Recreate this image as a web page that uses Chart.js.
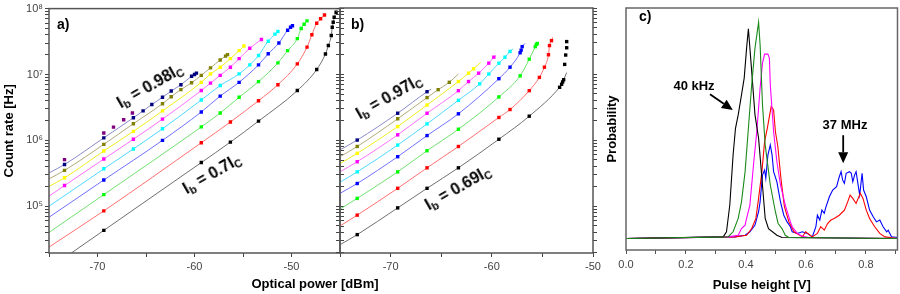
<!DOCTYPE html>
<html lang="en">
<head>
<meta charset="UTF-8" />
<title>Count rate and pulse height</title>
<script src="https://cdn.jsdelivr.net/npm/chart.js@4.4.1/dist/chart.umd.min.js"></script>
<style>
  body { margin: 0; background: #fff; }
  #wrap { position: relative; width: 900px; height: 294px; overflow: hidden; font-family: "Liberation Sans", Arial, sans-serif; }
  #wrap canvas { position: absolute; top: 0; }
  .lbl { position: absolute; font-weight: bold; color: #000; white-space: nowrap; line-height: 1; }
  .c { transform: translate(-50%, -50%); font-size: 13px; }
  .ib { font-size: 16px; transform: translate(-50%, -50%) rotate(-30deg); }
  .ib sub { font-size: 11px; vertical-align: -3px; line-height: 0; }
</style>
</head>
<body>
<div id="wrap">
  <canvas id="chartA" width="360" height="294" style="left:0px"></canvas>
  <canvas id="chartB" width="288" height="294" style="left:320px"></canvas>
  <canvas id="chartC" width="300" height="294" style="left:600px"></canvas>

  <div class="lbl" style="left:57px;top:17px;font-size:14px">a)</div>
  <div class="lbl" style="left:351px;top:17px;font-size:14px">b)</div>
  <div class="lbl" style="left:639px;top:9px;font-size:14px">c)</div>

  <div class="lbl ib" style="left:150px;top:86px">I<sub>b</sub> = 0.98I<sub>C</sub></div>
  <div class="lbl ib" style="left:212px;top:174px">I<sub>b</sub> = 0.7I<sub>C</sub></div>
  <div class="lbl ib" style="left:389px;top:97px">I<sub>b</sub> = 0.97I<sub>C</sub></div>
  <div class="lbl ib" style="left:458px;top:188px">I<sub>b</sub> = 0.69I<sub>C</sub></div>

  <div class="lbl c" style="left:694px;top:85px">40 kHz</div>
  <div class="lbl c" style="left:845px;top:124px">37 MHz</div>
  <div class="lbl c" style="left:315px;top:283px">Optical power [dBm]</div>
</div>

<script>
// ---- panel a: count rate vs optical power, [dBm, Hz] ----
const aNavyPts = [[-73.4, 4.3e5], [-69.35, 1.09e6], [-66.3, 2.2e6], [-65.3, 2.8e6], [-64.4, 3.5e6], [-63.3, 4.5e6], [-62.4, 5.6e6], [-61.4, 7.0e6], [-60.3, 9.4e6], [-60.0, 1.0e7], [-59.8, 1.05e7]];
const aPurplePts = [[-73.4, 5.1e5], [-69.35, 1.29e6], [-68.35, 1.59e6], [-67.3, 2.05e6], [-66.4, 2.6e6]];
const aOlivePts = [[-73.4, 3.5e5], [-69.35, 8.7e5], [-66.3, 1.79e6], [-63.3, 3.6e6], [-62.4, 4.6e6], [-61.4, 5.9e6], [-60.3, 7.5e6], [-59.3, 9.7e6], [-58.35, 1.26e7], [-57.35, 1.66e7], [-56.8, 1.9e7], [-56.6, 2.0e7]];
const aYellowPts = [[-73.4, 2.7e5], [-69.35, 6.9e5], [-66.3, 1.37e6], [-63.3, 2.8e6], [-59.3, 7.6e6], [-58.35, 1.02e7], [-57.35, 1.29e7], [-56.3, 1.74e7], [-55.4, 2.3e7], [-54.9, 2.7e7]];
const aMagentaPts = [[-73.4, 2.06e5], [-69.35, 5.2e5], [-66.3, 1.04e6], [-63.3, 2.1e6], [-59.3, 5.7e6], [-58.35, 7.4e6], [-57.35, 9.7e6], [-56.3, 1.29e7], [-55.4, 1.74e7], [-54.3, 2.5e7], [-53.1, 3.4e7]];
const aCyanPts = [[-69.35, 3.7e5], [-66.3, 7.4e5], [-63.3, 1.5e6], [-59.3, 4.1e6], [-57.35, 6.8e6], [-55.4, 1.02e7], [-54.3, 1.4e7], [-53.4, 1.94e7], [-52.4, 3.2e7], [-51.7, 4.1e7], [-51.4, 4.5e7]];
const aBluePts = [[-69.35, 2.5e5], [-63.3, 1.0e6], [-59.3, 2.7e6], [-57.35, 4.7e6], [-55.4, 7.6e6], [-53.4, 1.4e7], [-52.4, 2.06e7], [-51.3, 3.0e7], [-50.4, 4.7e7], [-50.1, 5.2e7], [-49.9, 5.5e7]];
const aGreenPts = [[-69.35, 1.5e5], [-59.3, 1.6e6], [-57.35, 2.6e6], [-55.4, 4.5e6], [-53.4, 7.8e6], [-51.4, 1.5e7], [-50.4, 2.3e7], [-49.4, 3.5e7], [-49.0, 5.0e7], [-48.7, 5.8e7], [-48.4, 6.5e7]];
const aRedPts = [[-69.35, 8.5e4], [-59.3, 9.2e5], [-56.3, 1.9e6], [-53.4, 4.0e6], [-51.4, 7.0e6], [-49.4, 1.45e7], [-48.4, 2.6e7], [-47.9, 4.0e7], [-47.4, 6.0e7], [-47.0, 7.0e7], [-46.6, 8.0e7]];
const aBlackPts = [[-69.35, 4.3e4], [-59.3, 4.6e5], [-56.3, 9.4e5], [-53.4, 1.96e6], [-49.4, 5.7e6], [-47.4, 1.19e7], [-46.5, 2.05e7], [-46.2, 2.75e7], [-45.9, 3.9e7], [-45.8, 5.2e7], [-45.7, 6.2e7], [-45.6, 7.4e7], [-45.4, 8.8e7]];
// where each fitted curve enters the plot (navy ... black)
const aStartX = [-75, -75, -75, -75, -75, -75, -75, -75, -72.7];
const aStartY = [3.2e5, 2.6e5, 2.0e5, 1.42e5, 1.0e5, 6.8e4, 4.0e4, 2.4e4, 1.95e4];

// ---- panel b ----
const bNavyPts = [[-73.3, 1.0e6], [-69.3, 2.55e6], [-66.4, 5.4e6]];
const bOlivePts = [[-73.3, 8.0e5], [-69.3, 2.1e6], [-66.4, 4.4e6], [-65.3, 5.8e6], [-64.2, 7.5e6]];
const bYellowPts = [[-73.3, 6.3e5], [-69.3, 1.6e6], [-66.4, 3.4e6], [-63.3, 7.7e6], [-62.3, 1.03e7], [-61.8, 1.2e7]];
const bMagentaPts = [[-73.3, 4.7e5], [-69.3, 1.2e6], [-66.4, 2.55e6], [-63.3, 5.6e6], [-62.3, 7.7e6], [-61.3, 1.03e7], [-60.3, 1.46e7], [-59.8, 1.8e7]];
const bCyanPts = [[-73.3, 3.3e5], [-69.3, 8.4e5], [-66.4, 1.76e6], [-63.3, 4.0e6], [-61.2, 7.1e6], [-60.3, 1.0e7], [-59.3, 1.46e7], [-58.7, 1.8e7], [-58.2, 2.2e7]];
const bBluePts = [[-73.3, 2.2e5], [-69.3, 5.6e5], [-66.4, 1.17e6], [-63.3, 2.5e6], [-59.3, 8.5e6], [-58.2, 1.27e7], [-57.2, 2.1e7], [-57.1, 2.3e7], [-57.0, 2.6e7]];
const bGreenPts = [[-73.3, 1.31e5], [-69.3, 3.3e5], [-66.4, 6.9e5], [-63.3, 1.46e6], [-59.3, 4.5e6], [-57.2, 9.4e6], [-56.3, 1.68e7], [-55.7, 2.6e7], [-55.6, 2.8e7], [-55.5, 2.9e7]];
const bRedPts = [[-73.3, 7.3e4], [-69.3, 1.86e5], [-66.4, 3.8e5], [-63.3, 8.0e5], [-59.3, 2.2e6], [-58.2, 2.9e6], [-56.3, 5.6e6], [-55.3, 8.9e6], [-54.8, 1.27e7], [-54.4, 1.96e7], [-54.3, 2.7e7], [-54.1, 3.2e7]];
const bBlackPts = [[-73.3, 3.7e4], [-69.3, 9.4e4], [-66.4, 1.86e5], [-63.3, 3.8e5], [-59.3, 1.03e6], [-56.3, 2.3e6], [-53.3, 6.3e6], [-53.1, 7.0e6], [-53.0, 7.6e6], [-52.9, 8.2e6]];
const bBlackTail = [[-52.8, 1.4e7], [-52.7, 1.94e7], [-52.6, 2.5e7], [-52.6, 3.1e7]];
const bStartY = [7.1e5, 5.6e5, 4.4e5, 3.3e5, 2.3e5, 1.56e5, 9.0e4, 5.0e4, 2.6e4];
const bEndX = [-66.0, -63.3, -61.1, -59.6, -57.9, -56.7, null, -54.0, -52.6];
const bEndY = [5.9e6, 1.0e7, 1.5e7, 1.9e7, 2.4e7, 2.9e7, null, 3.6e7, 1.05e7];

// log axis labels
const yMajor = [1e5, 1e6, 1e7, 1e8];
const yMajorLabels = ['10\u2075', '10\u2076', '10\u2077', '10\u2078'];

// ---- panel c: pulse height histograms [V, arb.] ----
const cBlack = [[0, 0], [0.324, 0.007], [0.335, 0.029], [0.346, 0.145], [0.357, 0.362], [0.365, 0.478], [0.374, 0.536], [0.385, 0.623], [0.394, 0.696], [0.402, 0.826], [0.408, 0.91], [0.419, 0.725], [0.43, 0.536], [0.442, 0.435], [0.453, 0.261], [0.464, 0.087], [0.475, 0.043], [0.503, 0.014], [0.52, 0.004], [0.905, 0]];
const cGreen = [[0, 0], [0.34, 0.007], [0.357, 0.029], [0.374, 0.087], [0.385, 0.159], [0.397, 0.29], [0.408, 0.478], [0.419, 0.667], [0.43, 0.826], [0.442, 0.939], [0.447, 0.841], [0.455, 0.58], [0.464, 0.406], [0.481, 0.232], [0.498, 0.116], [0.507, 0.065], [0.52, 0.043], [0.531, 0.014], [0.543, 0.004], [0.905, 0]];
const cMagenta = [[0, 0], [0.34, 0.007], [0.374, 0.014], [0.385, 0.043], [0.397, 0.058], [0.402, 0.087], [0.413, 0.145], [0.425, 0.319], [0.436, 0.464], [0.447, 0.652], [0.455, 0.761], [0.462, 0.8], [0.473, 0.8], [0.478, 0.783], [0.481, 0.667], [0.492, 0.464], [0.503, 0.333], [0.515, 0.232], [0.531, 0.145], [0.548, 0.072], [0.554, 0.051], [0.571, 0.022], [0.588, 0.01], [0.61, 0.004], [0.655, 0.003], [0.905, 0]];
const cRed = [[0, 0], [0.363, 0.007], [0.402, 0.014], [0.419, 0.043], [0.433, 0.087], [0.442, 0.174], [0.453, 0.29], [0.462, 0.42], [0.471, 0.478], [0.479, 0.536], [0.484, 0.572], [0.492, 0.558], [0.498, 0.464], [0.506, 0.4], [0.517, 0.254], [0.528, 0.138], [0.543, 0.072], [0.56, 0.029], [0.588, 0.007], [0.599, 0.029], [0.621, 0.007], [0.638, 0.022], [0.649, 0.051], [0.661, 0.036], [0.672, 0.065], [0.683, 0.08], [0.694, 0.087], [0.711, 0.101], [0.728, 0.123], [0.739, 0.159], [0.747, 0.188], [0.756, 0.174], [0.767, 0.152], [0.781, 0.196], [0.79, 0.174], [0.801, 0.123], [0.812, 0.087], [0.829, 0.051], [0.846, 0.022], [0.863, 0.007], [0.905, 0]];
const cBlue = [[0, 0], [0.363, 0.007], [0.397, 0.014], [0.413, 0.029], [0.43, 0.058], [0.442, 0.116], [0.447, 0.159], [0.455, 0.275], [0.462, 0.297], [0.466, 0.261], [0.473, 0.362], [0.481, 0.406], [0.487, 0.362], [0.492, 0.29], [0.503, 0.246], [0.515, 0.159], [0.526, 0.101], [0.537, 0.072], [0.548, 0.051], [0.554, 0.029], [0.571, 0.022], [0.588, 0.029], [0.604, 0.022], [0.621, 0.007], [0.633, 0.051], [0.638, 0.101], [0.646, 0.08], [0.653, 0.123], [0.661, 0.109], [0.666, 0.135], [0.678, 0.181], [0.689, 0.21], [0.702, 0.225], [0.711, 0.268], [0.717, 0.29], [0.722, 0.254], [0.728, 0.239], [0.734, 0.283], [0.745, 0.29], [0.751, 0.283], [0.756, 0.246], [0.762, 0.275], [0.767, 0.29], [0.773, 0.239], [0.779, 0.188], [0.787, 0.283], [0.792, 0.21], [0.801, 0.181], [0.812, 0.123], [0.824, 0.094], [0.835, 0.072], [0.846, 0.08], [0.857, 0.051], [0.869, 0.029], [0.874, 0.036], [0.885, 0.007], [0.905, 0.004]];
const cArrowFrom = [[0.280, 0.626], [0.724, 0.448]];
const cArrowTo = [[0.356, 0.557], [0.724, 0.326]];

const markColors = ['#000080', '#808000', '#ffff00', '#ff00ff', '#00ffff', '#0000ff', '#00ff00', '#ff0000', '#000000'];
const lineColors = ['#8a8ac8', '#b0ab7a', '#eeee20', '#ff70ff', '#50d8ff', '#7070ff', '#70e070', '#ff7070', '#707070'];

Chart.defaults.font.family = '"Liberation Sans", Arial, sans-serif';
Chart.defaults.color = '#444';
Chart.defaults.animation = false;
Chart.defaults.events = [];
Chart.defaults.plugins.legend.display = false;
Chart.defaults.plugins.tooltip.enabled = false;

const yMin = 1.95e4, yMax = 1e8;
const logTicks = [];
for (let e = 4; e <= 8; e++) {
  for (let m = 1; m <= 9; m++) {
    const v = m * Math.pow(10, e);
    if (v >= yMin && v <= yMax) logTicks.push(v);
  }
}

const xy = (pairs) => pairs.map((p) => ({ x: p[0], y: p[1] }));

function framePlugin(color, width) {
  return {
    id: 'frame',
    afterDraw(chart) {
      const { ctx, chartArea: a } = chart;
      ctx.save();
      ctx.strokeStyle = color;
      ctx.lineWidth = width;
      ctx.strokeRect(a.left, a.top, a.right - a.left, a.bottom - a.top);
      ctx.restore();
    },
  };
}

function logAxis(position, labels, width) {
  return {
    type: 'logarithmic',
    position,
    min: yMin,
    max: yMax,
    afterBuildTicks: (s) => { s.ticks = logTicks.map((v) => ({ value: v })); },
    ticks: {
      display: labels,
      autoSkip: false,
      padding: 2,
      font: { size: 11 },
      callback: (v) => { const i = yMajor.indexOf(v); return i >= 0 ? yMajorLabels[i] : ''; },
    },
    grid: { drawOnChartArea: false, tickLength: 4, color: '#444' },
    border: { display: false },
    afterFit: (s) => { s.width = width; },
  };
}

function powerAxis(min, max) {
  return {
    type: 'linear',
    min, max,
    ticks: {
      stepSize: 5, autoSkip: false, padding: 3, maxRotation: 0, font: { size: 11 },
      callback: (v) => (v % 10 === 0 ? String(v) : ''),
    },
    grid: { drawOnChartArea: false, tickLength: 4, color: '#444' },
    border: { display: false },
    afterFit: (s) => { s.height = 41; },
  };
}

function curveSets(ptsList, startX, startY, endX, endY) {
  const marks = [], lines = [];
  ptsList.forEach((pts, i) => {
    marks.push({
      data: xy(pts), showLine: false, pointStyle: 'rect', pointRadius: 2.4,
      pointBorderWidth: 0, pointBackgroundColor: markColors[i],
    });
    const line = [[startX[i], startY[i]], ...pts];
    if (endX && endX[i] !== null) line.push([endX[i], endY[i]]);
    lines.push({
      data: xy(line), borderColor: lineColors[i], borderWidth: 1, pointRadius: 0,
      cubicInterpolationMode: 'monotone',
    });
  });
  return { marks, lines };
}

// ---- chart a ----
const aSets = curveSets(
  [aNavyPts, aOlivePts, aYellowPts, aMagentaPts, aCyanPts, aBluePts, aGreenPts, aRedPts, aBlackPts],
  aStartX, aStartY
);
const aPurple = {
  data: xy(aPurplePts), showLine: false, pointStyle: 'rect', pointRadius: 2.4,
  pointBorderWidth: 0, pointBackgroundColor: '#800080',
};
new Chart(document.getElementById('chartA'), {
  type: 'line',
  data: { datasets: [aPurple, ...aSets.marks, ...aSets.lines] },
  options: {
    responsive: false,
    layout: { padding: { top: 8, right: 15, left: 0, bottom: 0 } },
    scales: {
      x: powerAxis(-75, -45),
      y: {
        ...logAxis('left', true, 49),
        title: { display: true, text: 'Count rate [Hz]', color: '#000', font: { size: 13, weight: 'bold' }, padding: { top: 2, bottom: 0 } },
      },
      y2: logAxis('right', false, 5),
    },
  },
  plugins: [framePlugin('#555', 1.5)],
});

// ---- chart b ----
const bSets = curveSets(
  [bNavyPts, bOlivePts, bYellowPts, bMagentaPts, bCyanPts, bBluePts, bGreenPts, bRedPts, bBlackPts],
  bStartY.map(() => -75), bStartY, bEndX, bEndY
);
const bTail = {
  data: xy(bBlackTail), showLine: false, pointStyle: 'rect', pointRadius: 2.4,
  pointBorderWidth: 0, pointBackgroundColor: '#000',
};
new Chart(document.getElementById('chartB'), {
  type: 'line',
  data: { datasets: [bTail, ...bSets.marks, ...bSets.lines] },
  options: {
    responsive: false,
    layout: { padding: { top: 8, right: 10, left: 0, bottom: 0 } },
    scales: {
      x: powerAxis(-75, -50),
      y: logAxis('left', false, 20),
      y2: logAxis('right', false, 5),
    },
  },
  plugins: [framePlugin('#555', 1.5)],
});

// ---- chart c ----
const arrowPlugin = {
  id: 'arrows',
  afterDatasetsDraw(chart) {
    const { ctx, scales: { x, y } } = chart;
    ctx.save();
    ctx.strokeStyle = '#000';
    ctx.fillStyle = '#000';
    ctx.lineWidth = 1.8;
    cArrowFrom.forEach((f, i) => {
      const t = cArrowTo[i];
      const x0 = x.getPixelForValue(f[0]), y0 = y.getPixelForValue(f[1]);
      const x1 = x.getPixelForValue(t[0]), y1 = y.getPixelForValue(t[1]);
      const ang = Math.atan2(y1 - y0, x1 - x0);
      const head = 11, half = 5;
      const bx = x1 - head * Math.cos(ang), by = y1 - head * Math.sin(ang);
      ctx.beginPath();
      ctx.moveTo(x0, y0);
      ctx.lineTo(bx, by);
      ctx.stroke();
      ctx.beginPath();
      ctx.moveTo(x1, y1);
      ctx.lineTo(bx + half * Math.sin(ang), by - half * Math.cos(ang));
      ctx.lineTo(bx - half * Math.sin(ang), by + half * Math.cos(ang));
      ctx.closePath();
      ctx.fill();
    });
    ctx.restore();
  },
};

const cLine = (pairs, color) => ({ data: xy(pairs), borderColor: color, borderWidth: 1.1, pointRadius: 0, tension: 0 });
new Chart(document.getElementById('chartC'), {
  type: 'line',
  data: {
    datasets: [
      cLine(cGreen, '#1a8a1a'),
      cLine(cBlack, '#000000'),
      cLine(cMagenta, '#ff00ff'),
      cLine(cRed, '#ff0000'),
      cLine(cBlue, '#0000ff'),
    ],
  },
  options: {
    responsive: false,
    layout: { padding: { top: 8, right: 2, left: 0, bottom: 0 } },
    scales: {
      x: {
        type: 'linear', min: 0, max: 0.905,
        ticks: {
          stepSize: 0.1, includeBounds: false, autoSkip: false, padding: 4, maxRotation: 0, font: { size: 11 },
          callback: (v) => (Math.round(v * 10) % 2 === 0 ? v.toFixed(1) : ''),
        },
        grid: { drawOnChartArea: false, tickLength: 4, color: '#555' },
        border: { display: false },
        title: { display: true, text: 'Pulse height [V]', color: '#000', font: { size: 13, weight: 'bold' }, padding: { top: 0, bottom: 1 } },
        afterFit: (s) => { s.height = 44; },
      },
      y: {
        min: -0.05, max: 1.0,
        ticks: { display: false },
        grid: { display: false },
        border: { display: false },
        title: { display: true, text: 'Probability', color: '#000', font: { size: 13, weight: 'bold' }, padding: { top: 5, bottom: 0 } },
        afterFit: (s) => { s.width = 26; },
      },
    },
  },
  plugins: [framePlugin('#666', 1.5), arrowPlugin],
});
</script>
</body>
</html>
